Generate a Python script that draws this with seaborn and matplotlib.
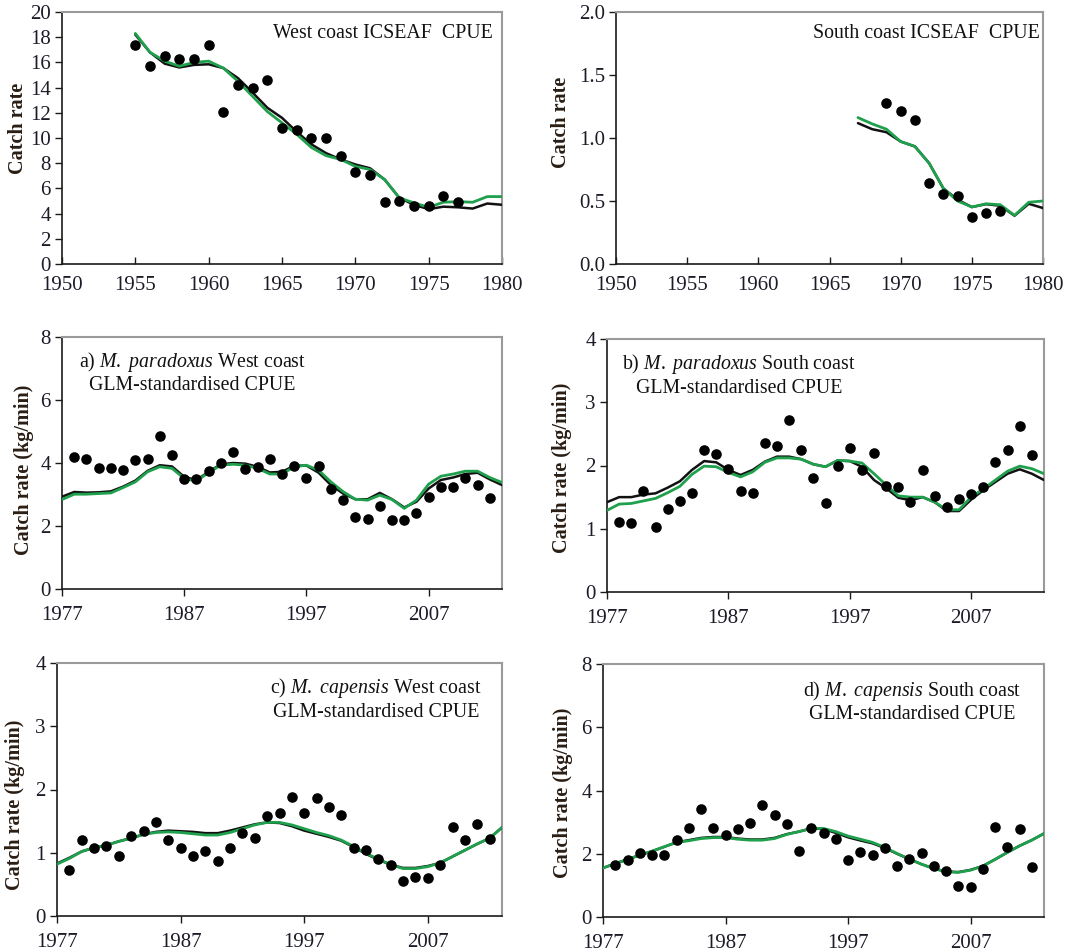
import numpy as np
import pandas as pd
import matplotlib
matplotlib.use("Agg")
import matplotlib.pyplot as plt
import seaborn as sns

sns.set_theme(style="white")
plt.rcParams['font.family'] = ['Liberation Serif', 'DejaVu Serif']
plt.rcParams['mathtext.fontset'] = 'custom'
plt.rcParams['mathtext.rm'] = 'Liberation Serif'
plt.rcParams['mathtext.it'] = 'Liberation Serif:italic'

GREEN = '#1ea04c'
BLACK = '#111111'

# ---------------- Panel 1: West coast ICSEAF CPUE ----------------
wc_obs_years = list(range(1955, 1978))
wc_obs = [17.35, 15.7, 16.5, 16.3, 16.3, 17.35, 12.1, 14.2, 14.0, 14.6, 10.8, 10.65,
          10.0, 10.0, 8.6, 7.3, 7.1, 4.9, 5.0, 4.6, 4.6, 5.4, 4.9]
wc_fit_years = list(range(1955, 1981))
wc_fit_black = [18.2, 16.8, 15.9, 15.6, 15.8, 15.85, 15.55, 14.75, 13.6, 12.4, 11.6, 10.5,
                9.5, 8.8, 8.3, 7.9, 7.6, 6.7, 5.25, 4.7, 4.35, 4.55, 4.5, 4.4, 4.8, 4.7]
wc_fit_green = [18.3, 16.8, 16.1, 15.7, 16.0, 16.1, 15.55, 14.5, 13.3, 12.1, 11.2, 10.3,
                9.25, 8.6, 8.3, 7.75, 7.5, 6.7, 5.25, 4.85, 4.5, 4.9, 4.95, 4.9, 5.35, 5.35]

# ---------------- Panel 2: South coast ICSEAF CPUE ----------------
sc_obs_years = list(range(1969, 1978))
sc_obs = [1.276, 1.218, 1.141, 0.642, 0.557, 0.542, 0.37, 0.404, 0.423]
sc_fit_years = list(range(1967, 1981))
sc_fit_black = [1.118, 1.07, 1.046, 0.972, 0.933, 0.80, 0.60, 0.51, 0.452, 0.475,
                0.462, 0.383, 0.478, 0.444]
sc_fit_green = [1.162, 1.112, 1.07, 0.972, 0.933, 0.80, 0.60, 0.50, 0.452, 0.478,
                0.47, 0.386, 0.49, 0.50]

# ---------------- GLM panels (1977-2013) ----------------
glm_obs_years = list(range(1978, 2013))
glm_fit_years = list(range(1977, 2014))

a_obs = [4.18, 4.14, 3.85, 3.85, 3.77, 4.08, 4.14, 4.86, 4.25, 3.48, 3.48, 3.74, 4.0,
         4.35, 3.82, 3.88, 4.14, 3.64, 3.91, 3.51, 3.91, 3.17, 2.82, 2.28, 2.22, 2.63,
         2.18, 2.18, 2.40, 2.93, 3.23, 3.23, 3.53, 3.30, 2.90]
a_black = [2.93, 3.08, 3.06, 3.07, 3.10, 3.25, 3.44, 3.75, 3.93, 3.89, 3.56, 3.46, 3.72,
           3.96, 4.0, 3.98, 3.88, 3.70, 3.72, 3.91, 3.92, 3.69, 3.30, 3.03, 2.85, 2.85,
           3.05, 2.85, 2.59, 2.77, 3.19, 3.46, 3.54, 3.65, 3.69, 3.48, 3.30]
a_green = [2.84, 3.01, 3.01, 3.03, 3.05, 3.22, 3.40, 3.72, 3.88, 3.83, 3.51, 3.42, 3.70,
           3.93, 3.96, 3.93, 3.83, 3.65, 3.65, 3.88, 3.93, 3.77, 3.40, 3.09, 2.85, 2.82,
           2.98, 2.84, 2.56, 2.82, 3.33, 3.58, 3.65, 3.74, 3.74, 3.54, 3.38]

b_obs = [1.10, 1.09, 1.59, 1.03, 1.31, 1.44, 1.56, 2.25, 2.18, 1.94, 1.60, 1.57, 2.35,
         2.31, 2.72, 2.25, 1.81, 1.40, 1.99, 2.28, 1.93, 2.20, 1.68, 1.66, 1.42, 1.93,
         1.52, 1.35, 1.47, 1.55, 1.66, 2.05, 2.25, 2.62, 2.16]
b_black = [1.42, 1.50, 1.50, 1.54, 1.56, 1.65, 1.75, 1.93, 2.07, 2.05, 1.93, 1.85, 1.93,
           2.06, 2.14, 2.14, 2.10, 2.02, 1.98, 2.08, 2.07, 1.98, 1.77, 1.64, 1.49, 1.45,
           1.50, 1.42, 1.28, 1.28, 1.46, 1.61, 1.74, 1.87, 1.94, 1.87, 1.77]
b_green = [1.29, 1.39, 1.40, 1.44, 1.48, 1.57, 1.67, 1.86, 1.99, 1.98, 1.89, 1.82, 1.90,
           2.05, 2.12, 2.12, 2.10, 2.02, 1.98, 2.08, 2.07, 2.04, 1.87, 1.69, 1.52, 1.50,
           1.50, 1.42, 1.30, 1.30, 1.50, 1.63, 1.77, 1.91, 1.99, 1.95, 1.87]

c_obs = [0.73, 1.20, 1.07, 1.10, 0.95, 1.27, 1.34, 1.48, 1.20, 1.07, 0.95, 1.02, 0.87,
         1.07, 1.31, 1.23, 1.58, 1.63, 1.88, 1.63, 1.87, 1.72, 1.59, 1.08, 1.05, 0.90,
         0.80, 0.56, 0.61, 0.60, 0.80, 1.41, 1.20, 1.46, 1.22]
c_black = [0.83, 0.92, 1.02, 1.08, 1.12, 1.18, 1.23, 1.29, 1.33, 1.35, 1.34, 1.33, 1.31,
           1.31, 1.35, 1.40, 1.45, 1.48, 1.47, 1.42, 1.35, 1.30, 1.25, 1.19, 1.09, 0.98,
           0.89, 0.81, 0.76, 0.76, 0.79, 0.84, 0.94, 1.04, 1.14, 1.23, 1.40]
c_green = [0.82, 0.91, 1.02, 1.08, 1.12, 1.18, 1.23, 1.29, 1.32, 1.33, 1.32, 1.30, 1.28,
           1.28, 1.32, 1.38, 1.44, 1.48, 1.48, 1.44, 1.38, 1.32, 1.27, 1.20, 1.10, 0.99,
           0.90, 0.81, 0.75, 0.75, 0.78, 0.84, 0.94, 1.04, 1.14, 1.23, 1.40]

d_obs = [1.66, 1.80, 2.03, 1.96, 1.96, 2.43, 2.80, 3.41, 2.83, 2.60, 2.77, 2.97, 3.55,
         3.21, 2.94, 2.09, 2.83, 2.66, 2.46, 1.80, 2.06, 1.96, 2.19, 1.62, 1.82, 2.03,
         1.62, 1.45, 0.99, 0.94, 1.51, 2.84, 2.20, 2.78, 1.59]
d_black = [1.55, 1.69, 1.82, 1.96, 2.08, 2.22, 2.36, 2.43, 2.50, 2.53, 2.53, 2.48, 2.45,
           2.45, 2.50, 2.62, 2.70, 2.80, 2.78, 2.66, 2.52, 2.42, 2.33, 2.18, 2.00, 1.83,
           1.67, 1.53, 1.44, 1.42, 1.49, 1.61, 1.82, 2.04, 2.25, 2.43, 2.64]
d_green = [1.55, 1.69, 1.82, 1.96, 2.08, 2.22, 2.36, 2.41, 2.48, 2.51, 2.51, 2.46, 2.43,
           2.43, 2.48, 2.61, 2.70, 2.80, 2.80, 2.70, 2.56, 2.46, 2.36, 2.20, 2.01, 1.83,
           1.67, 1.53, 1.43, 1.41, 1.48, 1.61, 1.82, 2.04, 2.25, 2.43, 2.64]

W, H = 1087, 951
fig = plt.figure(figsize=(W / 100, H / 100), dpi=100)

TICK_FS = 15
LABEL_FS = 14.5
NOTE_FS = 14.3


def add_ax(left, right, top, bottom):
    return fig.add_axes([left / W, (H - bottom) / H, (right - left) / W, (bottom - top) / H])


def style_ax(ax, x_in):
    for s in ['left', 'bottom']:
        ax.spines[s].set_color('#1a1a1a')
        ax.spines[s].set_linewidth(1.2)
    for s in ['top', 'right']:
        ax.spines[s].set_color('#9a9a9a')
        ax.spines[s].set_linewidth(1.5)
        ax.spines[s].set_visible(True)
    ax.tick_params(axis='y', direction='out', length=5, width=1, color='#1a1a1a',
                   labelsize=TICK_FS, labelcolor='#1c1c28', pad=3, left=True)
    ax.tick_params(axis='x', direction='in' if x_in else 'out', length=5, width=1,
                   color='#1a1a1a', labelsize=TICK_FS, labelcolor='#1c1c28',
                   pad=9 if x_in else 7, bottom=True)
    ax.grid(False)
    ax.set_xlabel('')


def draw(ax, obs_x, obs_y, fit_x, fit_b, fit_g):
    sns.lineplot(x=fit_x, y=fit_b, ax=ax, color=BLACK, linewidth=1.8, zorder=3)
    sns.lineplot(x=fit_x, y=fit_g, ax=ax, color=GREEN, linewidth=2.0, zorder=4)
    sns.scatterplot(x=obs_x, y=obs_y, ax=ax, color='black', s=58, edgecolor='black',
                    linewidth=0, zorder=5)


# Panel 1
ax1 = add_ax(62, 502, 12, 264)
draw(ax1, wc_obs_years, wc_obs, wc_fit_years, wc_fit_black, wc_fit_green)
ax1.set_xlim(1950, 1980)
ax1.set_ylim(0, 20)
ax1.set_xticks(range(1950, 1981, 5))
ax1.set_yticks(range(0, 21, 2))
style_ax(ax1, x_in=True)
ax1.set_ylabel('Catch rate', fontsize=LABEL_FS, fontweight='bold', color='#2a1e14')
ax1.yaxis.set_label_coords(-0.077, 0.54)
ax1.text(0.98, 0.913, 'West coast ICSEAF  CPUE', transform=ax1.transAxes,
         ha='right', va='center', fontsize=NOTE_FS, color='#111')

# Panel 2
ax2 = add_ax(616, 1043, 12, 264)
draw(ax2, sc_obs_years, sc_obs, sc_fit_years, sc_fit_black, sc_fit_green)
ax2.set_xlim(1950, 1980)
ax2.set_ylim(0, 2.0)
ax2.set_xticks(range(1950, 1981, 5))
ax2.set_yticks(np.arange(0, 2.01, 0.5))
ax2.set_yticklabels([f'{v:.1f}' for v in np.arange(0, 2.01, 0.5)])
style_ax(ax2, x_in=True)
ax2.set_ylabel('Catch rate', fontsize=LABEL_FS, fontweight='bold', color='#2a1e14')
ax2.yaxis.set_label_coords(-0.105, 0.563)
ax2.text(0.993, 0.913, 'South coast ICSEAF  CPUE', transform=ax2.transAxes,
         ha='right', va='center', fontsize=NOTE_FS, color='#111')

glm_panels = [
    ((62, 502, 337, 589), a_obs, a_black, a_green, 8, 2,
     'a) $\\mathit{M.\\ paradoxus}$ West coast', (0.296, 0.90, 0.806), (-0.064, 0.472)),
    ((607, 1044, 339, 592), b_obs, b_black, b_green, 4, 1,
     'b) $\\mathit{M.\\ paradoxus}$ South coast', (0.302, 0.90, 0.806), (-0.080, 0.49)),
    ((57, 502, 663, 916), c_obs, c_black, c_green, 4, 1,
     'c) $\\mathit{M.\\ capensis}$ West coast', (0.717, 0.90, 0.806), (-0.072, 0.44)),
    ((603, 1044, 664, 917), d_obs, d_black, d_green, 8, 2,
     'd) $\\mathit{M.\\ capensis}$ South coast', (0.70, 0.893, 0.802), (-0.068, 0.49)),
]

for (box, obs, fb, fg, ymax, ystep, title, tpos, lpos) in glm_panels:
    ax = add_ax(*box)
    draw(ax, glm_obs_years, obs, glm_fit_years, fb, fg)
    ax.set_xlim(1977, 2013)
    ax.set_ylim(0, ymax)
    ax.set_xticks([1977, 1987, 1997, 2007])
    ax.set_yticks(range(0, ymax + 1, ystep))
    style_ax(ax, x_in=False)
    ax.set_ylabel('Catch rate (kg/min)', fontsize=LABEL_FS, fontweight='bold', color='#2a1e14')
    ax.yaxis.set_label_coords(*lpos)
    ax.text(tpos[0], tpos[1], title, transform=ax.transAxes, ha='center', va='center',
            fontsize=NOTE_FS, color='#111')
    ax.text(tpos[0], tpos[2], 'GLM-standardised CPUE', transform=ax.transAxes,
            ha='center', va='center', fontsize=NOTE_FS, color='#111')

fig.savefig('out.png', dpi=100)
